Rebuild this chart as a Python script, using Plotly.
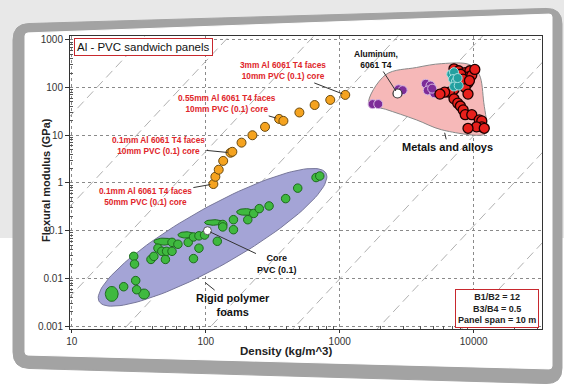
import numpy as np
import plotly.graph_objects as go

# ---------------- data ----------------
panel_rho = [114, 118, 125, 135, 153, 158, 185, 223, 277, 353, 380, 500, 650, 850, 1100]
panel_E = [0.95, 1.35, 1.9, 2.9, 4.3, 4.5, 7, 10, 15, 22, 20, 30, 43, 55, 70]

foam_rho = [24.4, 30, 30.5, 29, 29.4, 39, 41, 44, 47, 50, 51, 56, 56, 62, 74, 81, 89, 98,
            81, 89, 122, 134, 134, 161, 161, 206, 228, 251, 297, 395, 486, 666, 710]
foam_E = [0.0067, 0.009, 0.0058, 0.029, 0.02, 0.025, 0.029, 0.043, 0.037, 0.025, 0.037, 0.037,
          0.057, 0.052, 0.057, 0.074, 0.078, 0.081, 0.026, 0.043, 0.06, 0.135, 0.12, 0.17,
          0.105, 0.17, 0.23, 0.29, 0.33, 0.47, 0.78, 1.3, 1.4]

# foams drawn as property-range bubbles
foam_range_rho_lo = [17.8, 31.6, 41, 62, 98, 170]
foam_range_rho_hi = [22.2, 38, 58, 82, 135, 230]
foam_range_E_lo = [0.0033, 0.0037, 0.05, 0.07, 0.13, 0.21]
foam_range_E_hi = [0.0068, 0.006, 0.07, 0.095, 0.17, 0.29]

core_rho = [103]
core_E = [0.1]

al_rho = [2700]
al_E = [75]

purple_rho = [1760, 1940, 2750, 2950, 4390, 4760, 4540, 5080, 4900]
purple_E = [45, 45, 92, 88, 120, 110, 87, 76, 95]

cyan_rho = [6800, 7130, 7010, 7360, 7130, 7730, 7590]
cyan_E = [190, 210, 150, 132, 105, 110, 158]

red_rho = [7130, 7730, 8650, 9370, 8930, 9680, 9070, 8650, 9070, 7130, 6580, 6070, 5600,
           7130, 7600, 7960, 8350, 8650, 9680, 11000, 11500, 11500, 10500, 9070, 12000,
           8000, 8300, 9300, 10200]
red_E = [247, 225, 205, 225, 165, 180, 125, 100, 73, 91, 80, 80, 73,
         58, 47, 41, 34, 27, 27, 21, 20, 15, 15, 14, 14,
         190, 150, 140, 240]

# envelopes
metal_env_rho = [1650, 2200, 3740, 5780, 9370, 11000, 11900, 12500, 11900, 5780, 3740, 2200]
metal_env_E = [45, 185, 263, 317, 300, 188, 48, 12.3, 10.3, 13, 21, 35]
foam_env_tip_rho = [16, 790]
foam_env_tip_E = [0.0033, 1.6]

# guide lines  E^(1/3)/rho = 10^C
guide_C = [-0.52, -1.15, -1.78, -2.41, -3.04, -3.67, -4.30, -4.93]

x_ticks = [10, 100, 1000, 10000]
x_ticktext = ["10", "100", "1000", "10000"]
y_ticks = [0.001, 0.01, 0.1, 1, 10, 100, 1000]
y_ticktext = ["0.001", "0.01", "0.1", "1", "10", "100", "1000"]

# ---------------- layout geometry ----------------
W, H = 564, 387
PL, PR, PT, PB = 70, 542, 36, 329
XR = [np.log10(9.7), 4.51]
YR = [-3.06, 3.08]
PXX = (PR - PL) / (XR[1] - XR[0])
PXY = (PB - PT) / (YR[1] - YR[0])


def px2paper(px, py):
    return (px - PL) / (PR - PL), (PB - py) / (PB - PT)


def rounded_path(pts, r):
    n = len(pts)
    segs = []
    for i in range(n):
        P = np.array(pts[i], float)
        A = np.array(pts[i - 1], float)
        B = np.array(pts[(i + 1) % n], float)
        P1 = P + r * (A - P) / np.linalg.norm(A - P)
        P2 = P + r * (B - P) / np.linalg.norm(B - P)
        segs.append((P1, P, P2))

    def f(p):
        x, y = px2paper(p[0], p[1])
        return f"{x:.5f},{y:.5f}"
    s = "M" + f(segs[0][0])
    for i, (P1, P, P2) in enumerate(segs):
        if i > 0:
            s += " L" + f(P1)
        s += " Q" + f(P) + " " + f(P2)
    s += " Z"
    return s


def ellipse_xy(lx0, lx1, ly0, ly1, n=40):
    t = np.linspace(0, 2 * np.pi, n)
    cx, cy = (lx0 + lx1) / 2, (ly0 + ly1) / 2
    ax, ay = (lx1 - lx0) / 2, (ly1 - ly0) / 2
    return list(10 ** (cx + ax * np.cos(t))), list(10 ** (cy + ay * np.sin(t)))


fig = go.Figure()

# guide lines
gx, gy = [], []
for C in guide_C:
    for lx in (0.9, 4.6):
        gx.append(10 ** lx)
        gy.append(10 ** (3 * (lx + C)))
    gx.append(None)
    gy.append(None)
fig.add_trace(go.Scatter(x=gx, y=gy, mode="lines",
                         line=dict(color="#b0b0b0", width=1, dash="9px,5px")))

# foam envelope (ellipse between tips)
u = np.log10(foam_env_tip_rho) * PXX
v = np.log10(foam_env_tip_E) * PXY
c = np.array([u.mean(), v.mean()])
a = np.array([(u[1] - u[0]) / 2, (v[1] - v[0]) / 2])
perp = np.array([-a[1], a[0]]) / np.linalg.norm(a)
half_w = 29
t = np.linspace(0, 2 * np.pi, 120)
eu = c[0] + np.cos(t) * a[0] + np.sin(t) * perp[0] * half_w
ev = c[1] + np.cos(t) * a[1] + np.sin(t) * perp[1] * half_w
fig.add_trace(go.Scatter(x=10 ** (eu / PXX), y=10 ** (ev / PXY), mode="lines",
                         fill="toself", fillcolor="#a4a4d6",
                         line=dict(color="#77779a", width=1)))

# metals envelope
fig.add_trace(go.Scatter(x=metal_env_rho + metal_env_rho[:1], y=metal_env_E + metal_env_E[:1],
                         mode="lines", fill="toself", fillcolor="#f6b8b8",
                         line=dict(color="#8a8a8a", width=1, shape="spline", smoothing=1.0)))

# panels
fig.add_trace(go.Scatter(x=panel_rho, y=panel_E, mode="markers",
                         marker=dict(size=9, color="#f5a31f", line=dict(color="#6a4a10", width=1))))

# foam range bubbles
bx, by = [], []
for i in range(len(foam_range_rho_lo)):
    ex, ey = ellipse_xy(np.log10(foam_range_rho_lo[i]), np.log10(foam_range_rho_hi[i]),
                        np.log10(foam_range_E_lo[i]), np.log10(foam_range_E_hi[i]))
    bx += ex + [None]
    by += ey + [None]
fig.add_trace(go.Scatter(x=bx, y=by, mode="lines", fill="toself", fillcolor="#3fb93f",
                         line=dict(color="#1d6a1d", width=1)))
fig.add_trace(go.Scatter(x=foam_rho, y=foam_E, mode="markers",
                         marker=dict(size=8.5, color="#3fb93f", line=dict(color="#1d6a1d", width=1))))
fig.add_trace(go.Scatter(x=core_rho, y=core_E, mode="markers",
                         marker=dict(size=8, color="white", line=dict(color="#555", width=1))))

# metals
fig.add_trace(go.Scatter(x=purple_rho, y=purple_E, mode="markers",
                         marker=dict(size=9, color="#7d2c98", line=dict(color="#d6b8e2", width=1))))
fig.add_trace(go.Scatter(x=red_rho, y=red_E, mode="markers",
                         marker=dict(size=10, color="#e8201c", line=dict(color="#1a0000", width=1.3))))
fig.add_trace(go.Scatter(x=cyan_rho, y=cyan_E, mode="markers",
                         marker=dict(size=9, color="#23a0a0", line=dict(color="#a8e0e0", width=1))))
fig.add_trace(go.Scatter(x=al_rho, y=al_E, mode="markers",
                         marker=dict(size=9, color="white", line=dict(color="#333", width=1.2))))

# ---------------- card frame ----------------
shapes = []
gx0, gy0 = px2paper(0, 0)
gx1, gy1 = px2paper(W, 238)
shapes.append(dict(type="rect", xref="paper", yref="paper", x0=gx0, y0=gy0, x1=gx1, y1=gy1,
                   fillcolor="#e8e8e8", line=dict(width=0), layer="below"))
shapes.append(dict(type="path", xref="paper", yref="paper", layer="below",
                   path=rounded_path([(13, 24), (562, 8), (562, 384), (13, 368)], 16),
                   fillcolor="#a3a3a3", opacity=1, line=dict(color="#a3a3a3", width=1)))
shapes.append(dict(type="path", xref="paper", yref="paper", layer="below",
                   path=rounded_path([(25, 33), (552, 14), (552, 369), (25, 355)], 3),
                   fillcolor="#ffffff", opacity=1, line=dict(color="#ffffff", width=1)))

# ---------------- annotations ----------------
RED = "#e0262a"
FONT = "Liberation Sans, Arial, sans-serif"
ann = []


def lab(text, x, y, ax, ay, color, size, bold=True, arrow=True):
    ann.append(dict(x=np.log10(x), y=np.log10(y), xref="x", yref="y", ax=ax, ay=ay,
                    text=f"<b>{text}</b>" if bold else text, showarrow=arrow,
                    arrowhead=0, arrowwidth=1, arrowcolor="#333", standoff=3,
                    font=dict(family=FONT, size=size, color=color), align="center"))


lab("3mm Al 6061 T4 faces<br>10mm PVC (0.1) core", panel_rho[14], panel_E[14], -62, -24, RED, 8.3)
lab("0.55mm Al 6061 T4 faces<br>10mm PVC (0.1) core", panel_rho[9], panel_E[9], -52, -15, RED, 8.3)
lab("0.1mm Al 6061 T4 faces<br>10mm PVC (0.1) core", panel_rho[4], panel_E[4], -72, -7, RED, 8.3)
lab("0.1mm Al 6061 T4 faces<br>50mm PVC (0.1) core", panel_rho[0], panel_E[0], -68, 12, RED, 8.3)
lab("Aluminum,<br>6061 T4", al_rho[0], al_E[0], -22, -34, "#111", 8.5)
lab("Metals and alloys", 6000, 13, 4, 17, "#111", 11)
lab("Core<br>PVC (0.1)", core_rho[0], core_E[0], 70, 33, "#111", 9)
lab("Rigid polymer<br>foams", 95, 0.009, 30, 24, "#111", 11)

tx, ty = px2paper(74, 38)
ann.append(dict(x=tx, y=ty, xref="paper", yref="paper", xanchor="left", yanchor="top",
                text="Al - PVC sandwich panels", showarrow=False,
                font=dict(family=FONT, size=11.5, color="#111"),
                bordercolor="#c8282e", borderwidth=1, borderpad=2, bgcolor="white"))
bx_, by_ = px2paper(539, 328)
ann.append(dict(x=bx_, y=by_, xref="paper", yref="paper", xanchor="right", yanchor="bottom",
                text="<b>B1/B2 = 12<br>B3/B4 = 0.5<br>Panel span = 10 m</b>", showarrow=False,
                font=dict(family=FONT, size=9, color="#222"), align="center",
                bordercolor="#c8282e", borderwidth=1, borderpad=2, bgcolor="white"))
xt, yt = px2paper(286, 359)
ann.append(dict(x=xt, y=yt, xref="paper", yref="paper", showarrow=False,
                text="<b>Density (kg/m^3)</b>", font=dict(family=FONT, size=11.5, color="#222")))
xt, yt = px2paper(38, 180)
ann.append(dict(x=xt, y=yt, xref="paper", yref="paper", showarrow=False, textangle=-90,
                text="<b>Flexural modulus (GPa)</b>", font=dict(family=FONT, size=11, color="#222")))

minor_x = [m * 10 ** k for k in range(0, 5) for m in range(2, 10)]
minor_y = [m * 10 ** k for k in range(-3, 3) for m in range(2, 10)]

fig.update_layout(
    width=W, height=H, margin=dict(l=PL, r=W - PR, t=PT, b=H - PB),
    paper_bgcolor="white", plot_bgcolor="rgba(0,0,0,0)", showlegend=False,
    hovermode=False, dragmode=False,
    shapes=shapes, annotations=ann,
    xaxis=dict(type="log", range=XR, tickvals=x_ticks, ticktext=x_ticktext,
               showgrid=True, gridcolor="#8a8a8a", griddash="dot", gridwidth=1,
               showline=True, linecolor="#333", linewidth=1, mirror=True,
               ticks="outside", ticklen=3, tickcolor="#333",
               tickfont=dict(family=FONT, size=10, color="#333"),
               minor=dict(tickvals=minor_x, ticks="inside", ticklen=3, tickcolor="#555", showgrid=False),
               zeroline=False),
    yaxis=dict(type="log", range=YR, tickvals=y_ticks, ticktext=y_ticktext,
               showgrid=True, gridcolor="#8a8a8a", griddash="dot", gridwidth=1,
               showline=True, linecolor="#333", linewidth=1, mirror=True,
               ticks="outside", ticklen=4, tickcolor="#333",
               tickfont=dict(family=FONT, size=10, color="#333"),
               minor=dict(tickvals=minor_y, ticks="inside", ticklen=3, tickcolor="#555", showgrid=False),
               zeroline=False),
)

fig.write_html("out.html", config={"displayModeBar": False},
               post_script="document.body.style.margin='0';")
